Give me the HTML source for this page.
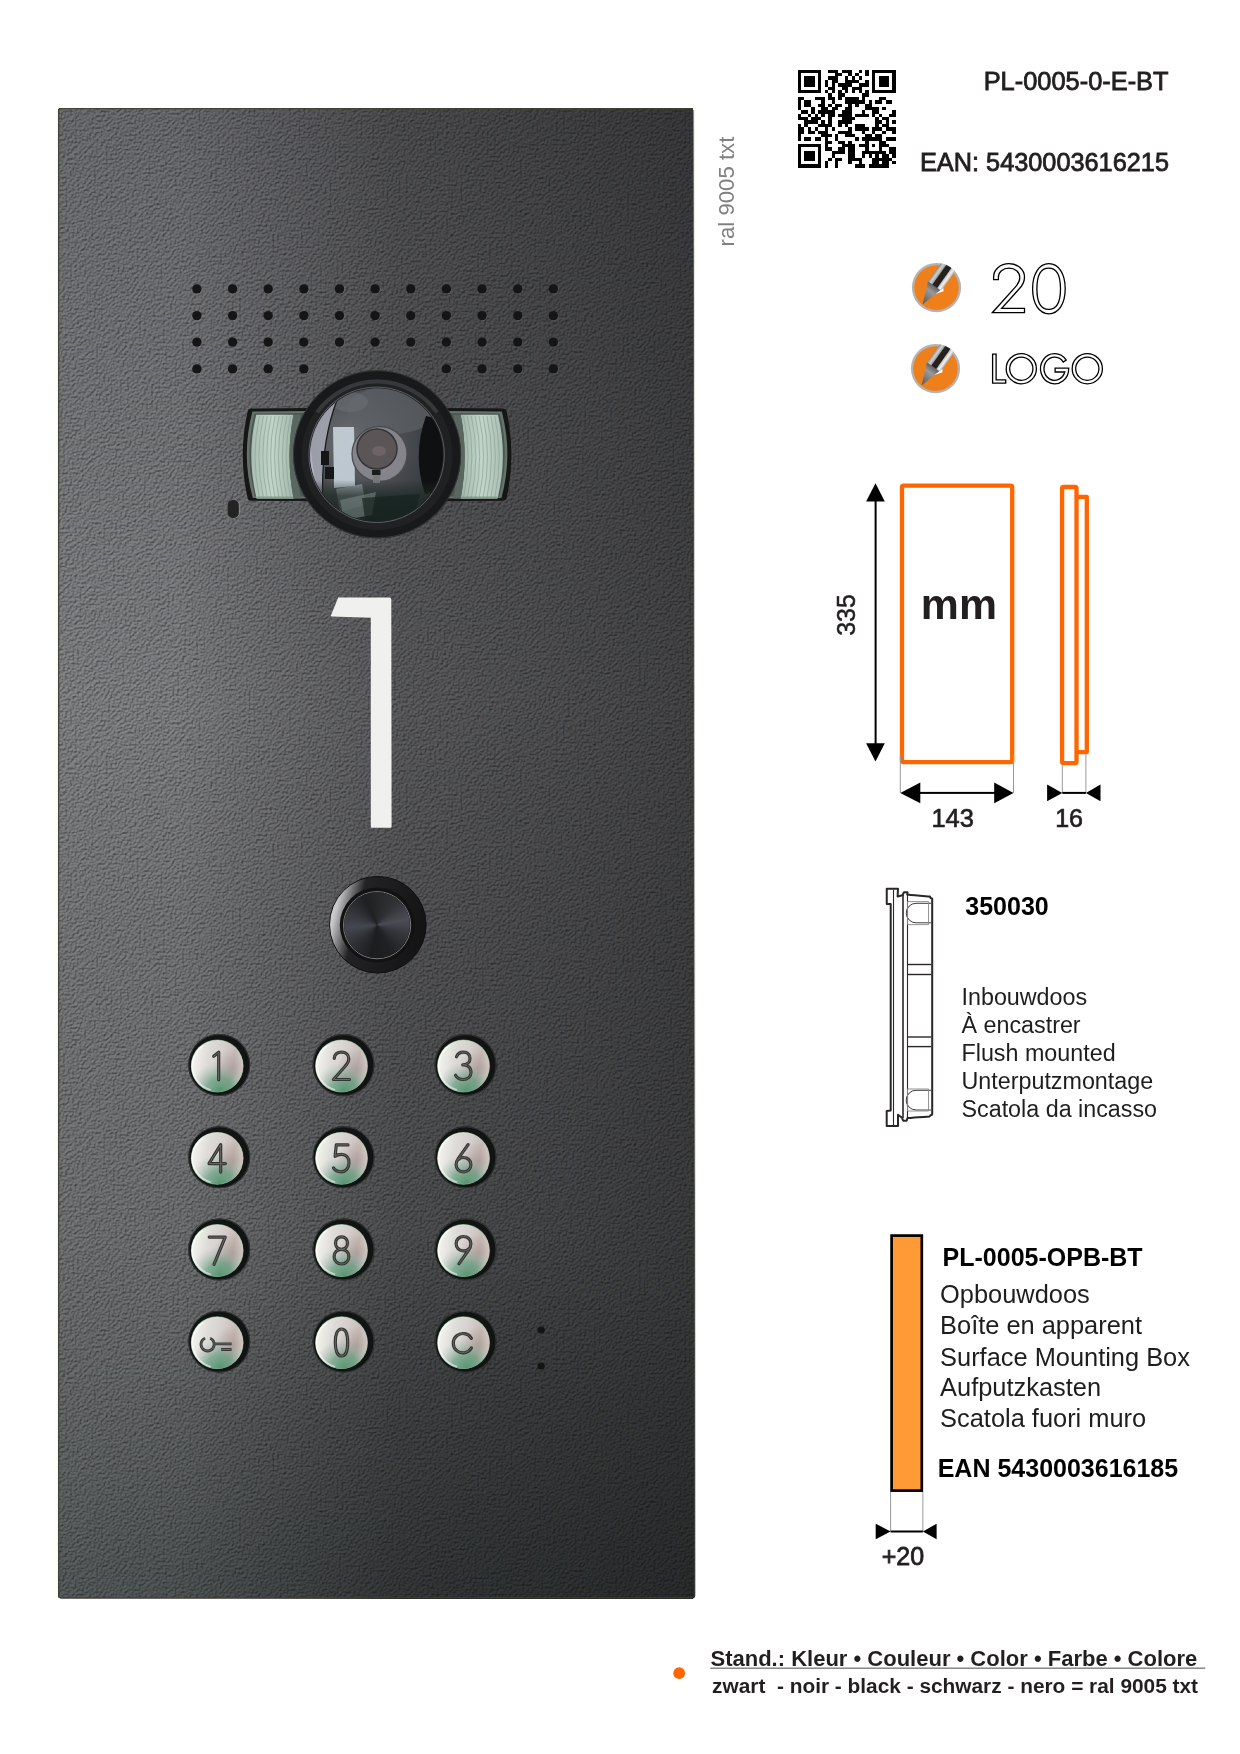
<!DOCTYPE html>
<html><head><meta charset="utf-8"><title>PL-0005-0-E-BT</title>
<style>
html,body{margin:0;padding:0;background:#fff;}
body{width:1240px;height:1754px;overflow:hidden;position:relative;font-family:"Liberation Sans",sans-serif;}
svg{position:absolute;left:0;top:0;display:block;will-change:transform}
text{font-family:"Liberation Sans",sans-serif;}
</style></head><body>
<svg width="1240" height="1754" viewBox="0 0 1240 1754">
<defs>
 <clipPath id="penclip"><circle r="24.6"/></clipPath>
 <clipPath id="panelclip"><rect x="58" y="108" width="636.5" height="1490.5" rx="3"/></clipPath>
 <linearGradient id="nibg" x1="0" y1="0" x2="1" y2="0">
  <stop offset="0" stop-color="#555"/><stop offset="0.6" stop-color="#9a9a9a"/><stop offset="1" stop-color="#444"/>
 </linearGradient>
 <linearGradient id="pbody1" x1="0" y1="0" x2="0" y2="1">
  <stop offset="0" stop-color="#8a8a8a"/><stop offset="0.5" stop-color="#d0d0d0"/><stop offset="1" stop-color="#999"/>
 </linearGradient>
 <linearGradient id="pbody2" x1="0" y1="0" x2="0" y2="1">
  <stop offset="0" stop-color="#bbb"/><stop offset="0.5" stop-color="#f2f2f2"/><stop offset="1" stop-color="#aaa"/>
 </linearGradient>
 <linearGradient id="pv" gradientUnits="userSpaceOnUse" x1="0" y1="108" x2="0" y2="1598">
  <stop offset="0" stop-color="#616265"/>
  <stop offset="0.05" stop-color="#646568"/>
  <stop offset="0.40" stop-color="#747577"/>
  <stop offset="0.55" stop-color="#6b6c6e"/>
  <stop offset="0.75" stop-color="#656768"/>
  <stop offset="0.92" stop-color="#56595a"/>
  <stop offset="1" stop-color="#4d5253"/>
 </linearGradient>
 <radialGradient id="pbot" gradientUnits="userSpaceOnUse" cx="450" cy="1640" r="420">
  <stop offset="0" stop-color="#000" stop-opacity="0.16"/>
  <stop offset="0.6" stop-color="#000" stop-opacity="0.08"/>
  <stop offset="1" stop-color="#000" stop-opacity="0"/>
 </radialGradient>
 <linearGradient id="ph" gradientUnits="userSpaceOnUse" x1="58" y1="0" x2="695" y2="0">
  <stop offset="0" stop-color="#000" stop-opacity="0"/>
  <stop offset="0.19" stop-color="#000" stop-opacity="0.02"/>
  <stop offset="0.53" stop-color="#000" stop-opacity="0.30"/>
  <stop offset="0.80" stop-color="#000" stop-opacity="0.40"/>
  <stop offset="1" stop-color="#000" stop-opacity="0.48"/>
 </linearGradient>
 <filter id="tex" x="0" y="0" width="100%" height="100%" color-interpolation-filters="sRGB">
  <feTurbulence type="fractalNoise" baseFrequency="0.42" numOctaves="3" seed="5" result="n"/>
  <feDiffuseLighting in="n" surfaceScale="2.2" diffuseConstant="1" lighting-color="#ffffff" result="l"><feDistantLight azimuth="235" elevation="50"/></feDiffuseLighting>
  <feColorMatrix in="l" type="matrix" values="0.3 0 0 0 0.29  0.3 0 0 0 0.29  0.3 0 0 0 0.29  0 0 0 0 1" result="g"/>
  <feComposite in="SourceGraphic" in2="g" operator="arithmetic" k1="2" k2="0" k3="0" k4="0"/>
 </filter>
 <radialGradient id="hole" cx="0.42" cy="0.42" r="0.6">
  <stop offset="0" stop-color="#141414"/><stop offset="0.75" stop-color="#1a1a1a"/><stop offset="1" stop-color="#2a2a2a"/>
 </radialGradient>

 <radialGradient id="glass" cx="0.3" cy="0.4" r="0.8">
  <stop offset="0" stop-color="#6c6f74"/><stop offset="0.45" stop-color="#4c4f53"/><stop offset="1" stop-color="#2e3235"/>
 </radialGradient>
 <linearGradient id="glassLow" x1="0" y1="0" x2="0" y2="1">
  <stop offset="0" stop-color="#2a3a34" stop-opacity="0"/><stop offset="0.55" stop-color="#2a3a34" stop-opacity="0"/><stop offset="0.75" stop-color="#22302b" stop-opacity="0.75"/><stop offset="1" stop-color="#1e2a26" stop-opacity="0.85"/>
 </linearGradient>
 <linearGradient id="ledg" x1="0" y1="0" x2="1" y2="0">
  <stop offset="0" stop-color="#a9bfb2"/><stop offset="0.5" stop-color="#c3d6ca"/><stop offset="1" stop-color="#a2b8aa"/>
 </linearGradient>
 <linearGradient id="metal" x1="0" y1="0.1" x2="1" y2="0.3">
  <stop offset="0" stop-color="#fafaf4"/><stop offset="0.12" stop-color="#f0f0ea"/><stop offset="0.35" stop-color="#dedcd8"/><stop offset="0.6" stop-color="#d6d0cd"/><stop offset="0.85" stop-color="#c8bcb8"/><stop offset="1" stop-color="#dcd8d2"/>
 </linearGradient>
 <radialGradient id="metalGreen" cx="0.55" cy="1.0" r="0.58" fx="0.55" fy="0.97">
  <stop offset="0" stop-color="#3c8a5e" stop-opacity="0.8"/><stop offset="0.45" stop-color="#4c9270" stop-opacity="0.6"/><stop offset="0.75" stop-color="#6fa08a" stop-opacity="0.25"/><stop offset="1" stop-color="#8fb0a0" stop-opacity="0"/>
 </radialGradient>
 <radialGradient id="metalShade" cx="0.8" cy="0.55" r="0.38">
  <stop offset="0" stop-color="#a08a86" stop-opacity="0.55"/><stop offset="1" stop-color="#a08a86" stop-opacity="0"/>
 </radialGradient>
 <radialGradient id="metalRim" cx="0.5" cy="0.5" r="0.5">
  <stop offset="0.86" stop-color="#ffffff" stop-opacity="0"/><stop offset="0.97" stop-color="#ffffff" stop-opacity="0.55"/><stop offset="1" stop-color="#e8f0c8" stop-opacity="0.3"/>
 </radialGradient>
 <linearGradient id="bezel" x1="0" y1="0.2" x2="1" y2="0.45">
  <stop offset="0" stop-color="#e4e4e4"/><stop offset="0.1" stop-color="#c4c4c6"/><stop offset="0.22" stop-color="#6a6a6c"/><stop offset="0.32" stop-color="#222224"/><stop offset="1" stop-color="#141415"/>
 </linearGradient>
<linearGradient id="glassLow2" gradientUnits="userSpaceOnUse" x1="0" y1="480" x2="0" y2="525">
  <stop offset="0" stop-color="#1e2a26" stop-opacity="0"/><stop offset="0.35" stop-color="#1e2a26" stop-opacity="0.7"/><stop offset="1" stop-color="#18221f" stop-opacity="0.9"/>
 </linearGradient>
</defs>
<g id="panel">
<g filter="url(#tex)"><path d="M61,108 L690.4,108 Q693.2,108 693.2,111 L694.8,1595.5 Q694.8,1598.5 691.8,1598.5 L61,1598.2 Q58,1598.2 58,1595.2 L58,111 Q58,108 61,108 Z" fill="url(#pv)"/>
<path d="M61,108 L690.4,108 Q693.2,108 693.2,111 L694.8,1595.5 Q694.8,1598.5 691.8,1598.5 L61,1598.2 Q58,1598.2 58,1595.2 L58,111 Q58,108 61,108 Z" fill="url(#ph)"/>
<path d="M61,108 L690.4,108 Q693.2,108 693.2,111 L694.8,1595.5 Q694.8,1598.5 691.8,1598.5 L61,1598.2 Q58,1598.2 58,1595.2 L58,111 Q58,108 61,108 Z" fill="url(#pbot)"/></g>
<path d="M693,108.6 L61,108.6 Q58.6,108.6 58.6,111 L58.6,1595.5 Q58.6,1597.9 61,1597.9 L692,1597.9" fill="none" stroke="#404230" stroke-width="1.3" opacity="0.9"/>
<path d="M693.6,110 L695.3,1596" stroke="#8d8d7c" stroke-width="1.2" opacity="0.6"/>
<!-- speaker holes -->
<g fill="#bcbcbc" opacity="0.18" transform="translate(0.7,0.7)"><circle cx="196.9" cy="288.9" r="4.7"/><circle cx="232.6" cy="288.9" r="4.7"/><circle cx="268.2" cy="288.9" r="4.7"/><circle cx="303.9" cy="288.9" r="4.7"/><circle cx="339.5" cy="288.9" r="4.7"/><circle cx="375.1" cy="288.9" r="4.7"/><circle cx="410.8" cy="288.9" r="4.7"/><circle cx="446.4" cy="288.9" r="4.7"/><circle cx="482.1" cy="288.9" r="4.7"/><circle cx="517.8" cy="288.9" r="4.7"/><circle cx="553.4" cy="288.9" r="4.7"/><circle cx="196.9" cy="315.6" r="4.7"/><circle cx="232.6" cy="315.6" r="4.7"/><circle cx="268.2" cy="315.6" r="4.7"/><circle cx="303.9" cy="315.6" r="4.7"/><circle cx="339.5" cy="315.6" r="4.7"/><circle cx="375.1" cy="315.6" r="4.7"/><circle cx="410.8" cy="315.6" r="4.7"/><circle cx="446.4" cy="315.6" r="4.7"/><circle cx="482.1" cy="315.6" r="4.7"/><circle cx="517.8" cy="315.6" r="4.7"/><circle cx="553.4" cy="315.6" r="4.7"/><circle cx="196.9" cy="342.1" r="4.7"/><circle cx="232.6" cy="342.1" r="4.7"/><circle cx="268.2" cy="342.1" r="4.7"/><circle cx="303.9" cy="342.1" r="4.7"/><circle cx="339.5" cy="342.1" r="4.7"/><circle cx="375.1" cy="342.1" r="4.7"/><circle cx="410.8" cy="342.1" r="4.7"/><circle cx="446.4" cy="342.1" r="4.7"/><circle cx="482.1" cy="342.1" r="4.7"/><circle cx="517.8" cy="342.1" r="4.7"/><circle cx="553.4" cy="342.1" r="4.7"/><circle cx="196.9" cy="368.9" r="4.7"/><circle cx="232.6" cy="368.9" r="4.7"/><circle cx="268.2" cy="368.9" r="4.7"/><circle cx="303.9" cy="368.9" r="4.7"/><circle cx="446.4" cy="368.9" r="4.7"/><circle cx="482.1" cy="368.9" r="4.7"/><circle cx="517.8" cy="368.9" r="4.7"/><circle cx="553.4" cy="368.9" r="4.7"/></g>
<g fill="#151515"><circle cx="196.9" cy="288.9" r="4.7"/><circle cx="232.6" cy="288.9" r="4.7"/><circle cx="268.2" cy="288.9" r="4.7"/><circle cx="303.9" cy="288.9" r="4.7"/><circle cx="339.5" cy="288.9" r="4.7"/><circle cx="375.1" cy="288.9" r="4.7"/><circle cx="410.8" cy="288.9" r="4.7"/><circle cx="446.4" cy="288.9" r="4.7"/><circle cx="482.1" cy="288.9" r="4.7"/><circle cx="517.8" cy="288.9" r="4.7"/><circle cx="553.4" cy="288.9" r="4.7"/><circle cx="196.9" cy="315.6" r="4.7"/><circle cx="232.6" cy="315.6" r="4.7"/><circle cx="268.2" cy="315.6" r="4.7"/><circle cx="303.9" cy="315.6" r="4.7"/><circle cx="339.5" cy="315.6" r="4.7"/><circle cx="375.1" cy="315.6" r="4.7"/><circle cx="410.8" cy="315.6" r="4.7"/><circle cx="446.4" cy="315.6" r="4.7"/><circle cx="482.1" cy="315.6" r="4.7"/><circle cx="517.8" cy="315.6" r="4.7"/><circle cx="553.4" cy="315.6" r="4.7"/><circle cx="196.9" cy="342.1" r="4.7"/><circle cx="232.6" cy="342.1" r="4.7"/><circle cx="268.2" cy="342.1" r="4.7"/><circle cx="303.9" cy="342.1" r="4.7"/><circle cx="339.5" cy="342.1" r="4.7"/><circle cx="375.1" cy="342.1" r="4.7"/><circle cx="410.8" cy="342.1" r="4.7"/><circle cx="446.4" cy="342.1" r="4.7"/><circle cx="482.1" cy="342.1" r="4.7"/><circle cx="517.8" cy="342.1" r="4.7"/><circle cx="553.4" cy="342.1" r="4.7"/><circle cx="196.9" cy="368.9" r="4.7"/><circle cx="232.6" cy="368.9" r="4.7"/><circle cx="268.2" cy="368.9" r="4.7"/><circle cx="303.9" cy="368.9" r="4.7"/><circle cx="446.4" cy="368.9" r="4.7"/><circle cx="482.1" cy="368.9" r="4.7"/><circle cx="517.8" cy="368.9" r="4.7"/><circle cx="553.4" cy="368.9" r="4.7"/></g>
<!-- mic -->
<rect x="228" y="500" width="11" height="18" rx="5.2" fill="none" stroke="#9a9a9a" stroke-width="1" opacity="0.6" transform="translate(0.6,0)"/><rect x="227.7" y="499.8" width="11" height="18.2" rx="5.3" fill="#232323"/>
<!-- numeral 1 -->
<path d="M338.2,597.5 L389.5,597.5 Q391.2,597.5 391.3,599.2 L391.6,826.6 Q391.6,827.8 390.3,827.8 L372,827.8 Q370.8,827.8 370.8,826.6 L370.8,617.8 L331.6,616.4 Q330.2,616.3 331,615.2 Z" fill="#f0f0ef"/>
<!-- small holes right of keypad -->
<circle cx="541.2" cy="1330" r="3.6" fill="#141414"/>
<circle cx="541.2" cy="1366" r="3.6" fill="#141414"/>
</g>
<g id="camera">
<g>
 <path d="M251,408.6 L312,408 L312,501 L251.5,500.8 Q248,500.8 247.5,497.5 Q238,455 247.5,412 Q248,408.6 251,408.6 Z" fill="#151717"/>
 <path d="M252.4,411.4 L310,411 L310,498.4 L252.8,498 Q241,455 252.4,411.4 Z" fill="#66736d"/>
 <path d="M254.6,413.4 L310,413 L310,496.6 L255,496.4 Q244,455 254.6,413.4 Z" fill="#4a5651"/>
 <path d="M256.2,414.8 L293.5,414.8 Q285.5,456 293.5,498.4 L256.6,498.4 Q246.2,456 256.2,414.8 Z" fill="url(#ledg)"/>
 <g fill="none" stroke="#8ba494" stroke-width="0.8" opacity="0.9"><path d="M259.5,416 Q250.5,456 259.5,498"/><path d="M263.4,416 Q254.4,456 263.4,498"/><path d="M267.3,416 Q258.3,456 267.3,498"/><path d="M271.2,416 Q262.2,456 271.2,498"/><path d="M275.1,416 Q266.1,456 275.1,498"/><path d="M279.0,416 Q270.0,456 279.0,498"/><path d="M282.9,416 Q273.9,456 282.9,498"/><path d="M286.8,416 Q277.8,456 286.8,498"/><path d="M290.7,416 Q281.7,456 290.7,498"/></g>
 <path d="M256.6,496.6 L293.5,496.6 L293.5,499 L256.9,499 Z" fill="#7f9588" opacity="0.8"/>
 <path d="M293.5,414.8 Q285.5,456 293.5,498.4 L301,498.4 Q292.5,456 301,414.8 Z" fill="#5a6761"/>
</g>
<g transform="translate(754.2,0) scale(-1,1)">
 <path d="M251,408.6 L312,408 L312,501 L251.5,500.8 Q248,500.8 247.5,497.5 Q238,455 247.5,412 Q248,408.6 251,408.6 Z" fill="#151717"/>
 <path d="M252.4,411.4 L310,411 L310,498.4 L252.8,498 Q241,455 252.4,411.4 Z" fill="#66736d"/>
 <path d="M254.6,413.4 L310,413 L310,496.6 L255,496.4 Q244,455 254.6,413.4 Z" fill="#4a5651"/>
 <path d="M256.2,414.8 L293.5,414.8 Q285.5,456 293.5,498.4 L256.6,498.4 Q246.2,456 256.2,414.8 Z" fill="url(#ledg)"/>
 <g fill="none" stroke="#8ba494" stroke-width="0.8" opacity="0.9"><path d="M259.5,416 Q250.5,456 259.5,498"/><path d="M263.4,416 Q254.4,456 263.4,498"/><path d="M267.3,416 Q258.3,456 267.3,498"/><path d="M271.2,416 Q262.2,456 271.2,498"/><path d="M275.1,416 Q266.1,456 275.1,498"/><path d="M279.0,416 Q270.0,456 279.0,498"/><path d="M282.9,416 Q273.9,456 282.9,498"/><path d="M286.8,416 Q277.8,456 286.8,498"/><path d="M290.7,416 Q281.7,456 290.7,498"/></g>
 <path d="M256.6,496.6 L293.5,496.6 L293.5,499 L256.9,499 Z" fill="#7f9588" opacity="0.8"/>
 <path d="M293.5,414.8 Q285.5,456 293.5,498.4 L301,498.4 Q292.5,456 301,414.8 Z" fill="#5a6761"/>
</g>
<circle cx="377.1" cy="454.3" r="84" fill="#18191a"/>
<circle cx="377.1" cy="454.3" r="83.6" fill="none" stroke="#3a3c3d" stroke-width="0.8"/>
<circle cx="377.1" cy="454.8" r="75.5" fill="#1f2122"/>
<path d="M317.1,412.3 A74,74 0 0 1 437.1,412.3" fill="none" stroke="#3c3f42" stroke-width="4" opacity="0.8"/>
<circle cx="376.6" cy="454.8" r="67.7" fill="none" stroke="#5c6064" stroke-width="1"/>
<clipPath id="glassclip"><circle cx="376.6" cy="454.8" r="66.5"/></clipPath>
<g clip-path="url(#glassclip)">
<circle cx="376.6" cy="454.8" r="66.5" fill="url(#glass)"/>
<!-- top mottled -->
<ellipse cx="392" cy="410" rx="45" ry="24" fill="#5e6266" opacity="0.7"/>
<ellipse cx="350" cy="402" rx="18" ry="10" fill="#6a6e72" opacity="0.6"/>
<!-- left bright crescent -->
<path d="M300,385 L337,400 Q318,450 324,520 L300,520 Z" fill="#a2a4b0" opacity="0.92"/>
<path d="M304,440 Q306,475 318,505 L322,505 Q312,475 310,440 Z" fill="#d0d2dc" opacity="0.5"/>
<path d="M337,400 Q318,450 324,520" fill="none" stroke="#1a1a1c" stroke-width="1.3"/>
<!-- window reflection -->
<path d="M333,427 L354,427 L355,486 L334,488 Z" fill="#c6d0d8" opacity="0.92"/>
<path d="M336,489 L362,484 L366,505 L340,512 Z" fill="#aeb8bc" opacity="0.7"/>
<rect x="321" y="451" width="8" height="14" fill="#151515"/>
<rect x="325" y="467" width="9" height="12" fill="#171717"/>
<!-- dark crescent right -->
<path d="M426,416 Q412,455 425,494 Q441,492 447,480 Q453,455 445,425 Q437,418 426,416 Z" fill="#0f1011"/>
<path d="M443,448 L446,448 L446,486 L443,488 Z" fill="#8c9094" opacity="0.7"/>
<!-- aperture -->
<circle cx="379.5" cy="454" r="27.5" fill="#84848a"/>
<circle cx="379.5" cy="454" r="27.5" fill="none" stroke="#4c4e52" stroke-width="1.3"/>
<circle cx="377" cy="449" r="20" fill="#5c5558"/>
<circle cx="377" cy="449" r="20" fill="none" stroke="#333437" stroke-width="1.5"/>
<ellipse cx="379" cy="451" rx="7" ry="5" fill="#7a6c70" opacity="0.6"/>
<rect x="372" y="470" width="8.5" height="5" fill="#1c1c1c"/>
<rect x="373" y="475" width="7" height="8" fill="#767a7e"/>
<!-- lower dark-green -->
<rect x="300" y="480" width="160" height="60" fill="url(#glassLow2)"/>
<path d="M340,500 L376,492 L372,515 L344,520 Z" fill="#7c8a86" opacity="0.55"/>
<path d="M362,498 L420,494 L412,522 L366,526 Z" fill="#16221e" opacity="0.7"/>
</g>
</g>
<g id="keys"><circle cx="219.2" cy="1065.0" r="31" fill="#121413"/><circle cx="219.2" cy="1065.0" r="30.5" fill="none" stroke="#3a3e3c" stroke-width="0.8"/><circle cx="217.2" cy="1066.0" r="26.4" fill="#5d8f6e"/><circle cx="217.2" cy="1066.0" r="26" fill="url(#metal)"/><circle cx="217.2" cy="1066.0" r="26" fill="url(#metalShade)"/><circle cx="217.2" cy="1066.0" r="26" fill="url(#metalGreen)"/><path d="M210.78,1089.95 A24.8,24.8 0 0 1 202.98,1045.69" fill="none" stroke="#ffffff" stroke-width="1.6" opacity="0.55"/><g transform="translate(208.2,1051.8)" fill="none" stroke-linecap="round" stroke-linejoin="round"><path d="M5.5,4.5 L10.5,0.5 L10.5,28" stroke="#353533" stroke-width="3.2"/><path d="M5.5,4.5 L10.5,0.5 L10.5,28" stroke="#6e6e6a" stroke-width="0.9"/></g><circle cx="343.5" cy="1065.0" r="31" fill="#121413"/><circle cx="343.5" cy="1065.0" r="30.5" fill="none" stroke="#3a3e3c" stroke-width="0.8"/><circle cx="341.5" cy="1066.0" r="26.4" fill="#5d8f6e"/><circle cx="341.5" cy="1066.0" r="26" fill="url(#metal)"/><circle cx="341.5" cy="1066.0" r="26" fill="url(#metalShade)"/><circle cx="341.5" cy="1066.0" r="26" fill="url(#metalGreen)"/><path d="M335.08,1089.95 A24.8,24.8 0 0 1 327.28,1045.69" fill="none" stroke="#ffffff" stroke-width="1.6" opacity="0.55"/><g transform="translate(332.5,1051.8)" fill="none" stroke-linecap="round" stroke-linejoin="round"><path d="M1.8,6.5 C1.8,2.8 4.8,0.3 9,0.3 C13.3,0.3 16.3,3 16.3,7 C16.3,10 14.8,12.2 12,15.2 L1,27.7 L17,27.7" stroke="#353533" stroke-width="3.2"/><path d="M1.8,6.5 C1.8,2.8 4.8,0.3 9,0.3 C13.3,0.3 16.3,3 16.3,7 C16.3,10 14.8,12.2 12,15.2 L1,27.7 L17,27.7" stroke="#6e6e6a" stroke-width="0.9"/></g><circle cx="465.5" cy="1065.0" r="31" fill="#121413"/><circle cx="465.5" cy="1065.0" r="30.5" fill="none" stroke="#3a3e3c" stroke-width="0.8"/><circle cx="463.5" cy="1066.0" r="26.4" fill="#5d8f6e"/><circle cx="463.5" cy="1066.0" r="26" fill="url(#metal)"/><circle cx="463.5" cy="1066.0" r="26" fill="url(#metalShade)"/><circle cx="463.5" cy="1066.0" r="26" fill="url(#metalGreen)"/><path d="M457.08,1089.95 A24.8,24.8 0 0 1 449.28,1045.69" fill="none" stroke="#ffffff" stroke-width="1.6" opacity="0.55"/><g transform="translate(454.5,1051.8)" fill="none" stroke-linecap="round" stroke-linejoin="round"><path d="M2,5 C3,2 5.5,0.3 9,0.3 C13,0.3 15.5,2.8 15.5,6.6 C15.5,10.5 12.6,13 8.2,13 C13,13 16.5,15.6 16.5,20.4 C16.5,25 13,27.7 8.6,27.7 C5,27.7 2.5,26.2 1,23.5" stroke="#353533" stroke-width="3.2"/><path d="M2,5 C3,2 5.5,0.3 9,0.3 C13,0.3 15.5,2.8 15.5,6.6 C15.5,10.5 12.6,13 8.2,13 C13,13 16.5,15.6 16.5,20.4 C16.5,25 13,27.7 8.6,27.7 C5,27.7 2.5,26.2 1,23.5" stroke="#6e6e6a" stroke-width="0.9"/></g><circle cx="219.2" cy="1157.3" r="31" fill="#121413"/><circle cx="219.2" cy="1157.3" r="30.5" fill="none" stroke="#3a3e3c" stroke-width="0.8"/><circle cx="217.2" cy="1158.3" r="26.4" fill="#5d8f6e"/><circle cx="217.2" cy="1158.3" r="26" fill="url(#metal)"/><circle cx="217.2" cy="1158.3" r="26" fill="url(#metalShade)"/><circle cx="217.2" cy="1158.3" r="26" fill="url(#metalGreen)"/><path d="M210.78,1182.25 A24.8,24.8 0 0 1 202.98,1137.99" fill="none" stroke="#ffffff" stroke-width="1.6" opacity="0.55"/><g transform="translate(208.2,1144.1)" fill="none" stroke-linecap="round" stroke-linejoin="round"><path d="M12.5,28 L12.5,0.5 L0.8,19.5 L17.2,19.5" stroke="#353533" stroke-width="3.2"/><path d="M12.5,28 L12.5,0.5 L0.8,19.5 L17.2,19.5" stroke="#6e6e6a" stroke-width="0.9"/></g><circle cx="343.5" cy="1157.3" r="31" fill="#121413"/><circle cx="343.5" cy="1157.3" r="30.5" fill="none" stroke="#3a3e3c" stroke-width="0.8"/><circle cx="341.5" cy="1158.3" r="26.4" fill="#5d8f6e"/><circle cx="341.5" cy="1158.3" r="26" fill="url(#metal)"/><circle cx="341.5" cy="1158.3" r="26" fill="url(#metalShade)"/><circle cx="341.5" cy="1158.3" r="26" fill="url(#metalGreen)"/><path d="M335.08,1182.25 A24.8,24.8 0 0 1 327.28,1137.99" fill="none" stroke="#ffffff" stroke-width="1.6" opacity="0.55"/><g transform="translate(332.5,1144.1)" fill="none" stroke-linecap="round" stroke-linejoin="round"><path d="M15.5,0.8 L3.8,0.8 L2.6,12.2 C4.4,10.8 6.6,10.2 9,10.2 C13.5,10.2 16.5,13.6 16.5,18.6 C16.5,24.2 13,27.7 8.6,27.7 C5,27.7 2.5,26.2 1,23.8" stroke="#353533" stroke-width="3.2"/><path d="M15.5,0.8 L3.8,0.8 L2.6,12.2 C4.4,10.8 6.6,10.2 9,10.2 C13.5,10.2 16.5,13.6 16.5,18.6 C16.5,24.2 13,27.7 8.6,27.7 C5,27.7 2.5,26.2 1,23.8" stroke="#6e6e6a" stroke-width="0.9"/></g><circle cx="465.5" cy="1157.3" r="31" fill="#121413"/><circle cx="465.5" cy="1157.3" r="30.5" fill="none" stroke="#3a3e3c" stroke-width="0.8"/><circle cx="463.5" cy="1158.3" r="26.4" fill="#5d8f6e"/><circle cx="463.5" cy="1158.3" r="26" fill="url(#metal)"/><circle cx="463.5" cy="1158.3" r="26" fill="url(#metalShade)"/><circle cx="463.5" cy="1158.3" r="26" fill="url(#metalGreen)"/><path d="M457.08,1182.25 A24.8,24.8 0 0 1 449.28,1137.99" fill="none" stroke="#ffffff" stroke-width="1.6" opacity="0.55"/><g transform="translate(454.5,1144.1)" fill="none" stroke-linecap="round" stroke-linejoin="round"><path d="M13.6,0.5 L4.2,13.8 C2.6,16 1.6,18.2 1.6,20.6 C1.6,24.8 4.8,27.8 9,27.8 C13.2,27.8 16.4,24.8 16.4,20.6 C16.4,16.4 13.2,13.4 9,13.4 C6.6,13.4 4.6,14.4 3.4,15.8" stroke="#353533" stroke-width="3.2"/><path d="M13.6,0.5 L4.2,13.8 C2.6,16 1.6,18.2 1.6,20.6 C1.6,24.8 4.8,27.8 9,27.8 C13.2,27.8 16.4,24.8 16.4,20.6 C16.4,16.4 13.2,13.4 9,13.4 C6.6,13.4 4.6,14.4 3.4,15.8" stroke="#6e6e6a" stroke-width="0.9"/></g><circle cx="219.2" cy="1249.5" r="31" fill="#121413"/><circle cx="219.2" cy="1249.5" r="30.5" fill="none" stroke="#3a3e3c" stroke-width="0.8"/><circle cx="217.2" cy="1250.5" r="26.4" fill="#5d8f6e"/><circle cx="217.2" cy="1250.5" r="26" fill="url(#metal)"/><circle cx="217.2" cy="1250.5" r="26" fill="url(#metalShade)"/><circle cx="217.2" cy="1250.5" r="26" fill="url(#metalGreen)"/><path d="M210.78,1274.45 A24.8,24.8 0 0 1 202.98,1230.19" fill="none" stroke="#ffffff" stroke-width="1.6" opacity="0.55"/><g transform="translate(208.2,1236.3)" fill="none" stroke-linecap="round" stroke-linejoin="round"><path d="M1,0.8 L17,0.8 L5.8,28" stroke="#353533" stroke-width="3.2"/><path d="M1,0.8 L17,0.8 L5.8,28" stroke="#6e6e6a" stroke-width="0.9"/></g><circle cx="343.5" cy="1249.5" r="31" fill="#121413"/><circle cx="343.5" cy="1249.5" r="30.5" fill="none" stroke="#3a3e3c" stroke-width="0.8"/><circle cx="341.5" cy="1250.5" r="26.4" fill="#5d8f6e"/><circle cx="341.5" cy="1250.5" r="26" fill="url(#metal)"/><circle cx="341.5" cy="1250.5" r="26" fill="url(#metalShade)"/><circle cx="341.5" cy="1250.5" r="26" fill="url(#metalGreen)"/><path d="M335.08,1274.45 A24.8,24.8 0 0 1 327.28,1230.19" fill="none" stroke="#ffffff" stroke-width="1.6" opacity="0.55"/><g transform="translate(332.5,1236.3)" fill="none" stroke-linecap="round" stroke-linejoin="round"><path d="M9,13 C5.4,13 3,10.4 3,6.8 C3,3.2 5.4,0.5 9,0.5 C12.6,0.5 15,3.2 15,6.8 C15,10.4 12.6,13 9,13 C4.6,13 1.6,16.3 1.6,20.3 C1.6,24.6 4.8,27.7 9,27.7 C13.2,27.7 16.4,24.6 16.4,20.3 C16.4,16.3 13.4,13 9,13 Z" stroke="#353533" stroke-width="3.2"/><path d="M9,13 C5.4,13 3,10.4 3,6.8 C3,3.2 5.4,0.5 9,0.5 C12.6,0.5 15,3.2 15,6.8 C15,10.4 12.6,13 9,13 C4.6,13 1.6,16.3 1.6,20.3 C1.6,24.6 4.8,27.7 9,27.7 C13.2,27.7 16.4,24.6 16.4,20.3 C16.4,16.3 13.4,13 9,13 Z" stroke="#6e6e6a" stroke-width="0.9"/></g><circle cx="465.5" cy="1249.5" r="31" fill="#121413"/><circle cx="465.5" cy="1249.5" r="30.5" fill="none" stroke="#3a3e3c" stroke-width="0.8"/><circle cx="463.5" cy="1250.5" r="26.4" fill="#5d8f6e"/><circle cx="463.5" cy="1250.5" r="26" fill="url(#metal)"/><circle cx="463.5" cy="1250.5" r="26" fill="url(#metalShade)"/><circle cx="463.5" cy="1250.5" r="26" fill="url(#metalGreen)"/><path d="M457.08,1274.45 A24.8,24.8 0 0 1 449.28,1230.19" fill="none" stroke="#ffffff" stroke-width="1.6" opacity="0.55"/><g transform="translate(454.5,1236.3)" fill="none" stroke-linecap="round" stroke-linejoin="round"><path d="M4.4,27.5 L13.8,14.2 C15.4,12 16.4,9.8 16.4,7.4 C16.4,3.2 13.2,0.2 9,0.2 C4.8,0.2 1.6,3.2 1.6,7.4 C1.6,11.6 4.8,14.6 9,14.6 C11.4,14.6 13.4,13.6 14.6,12.2" stroke="#353533" stroke-width="3.2"/><path d="M4.4,27.5 L13.8,14.2 C15.4,12 16.4,9.8 16.4,7.4 C16.4,3.2 13.2,0.2 9,0.2 C4.8,0.2 1.6,3.2 1.6,7.4 C1.6,11.6 4.8,14.6 9,14.6 C11.4,14.6 13.4,13.6 14.6,12.2" stroke="#6e6e6a" stroke-width="0.9"/></g><circle cx="219.2" cy="1341.7" r="31" fill="#121413"/><circle cx="219.2" cy="1341.7" r="30.5" fill="none" stroke="#3a3e3c" stroke-width="0.8"/><circle cx="217.2" cy="1342.7" r="26.4" fill="#5d8f6e"/><circle cx="217.2" cy="1342.7" r="26" fill="url(#metal)"/><circle cx="217.2" cy="1342.7" r="26" fill="url(#metalShade)"/><circle cx="217.2" cy="1342.7" r="26" fill="url(#metalGreen)"/><path d="M210.78,1366.65 A24.8,24.8 0 0 1 202.98,1322.39" fill="none" stroke="#ffffff" stroke-width="1.6" opacity="0.55"/><g stroke="#3a3a38" stroke-width="2.8"><g fill="none" stroke-linecap="butt"><path d="M210.07,1338.28 A6.6,6.6 0 1 1 205.13,1338.28"/><path d="M214.80,1343.9 L231.6,1343.9 M221.1,1349.5 L231.6,1349.5"/></g></g><g stroke="#6e6e6a" stroke-width="0.8"><g fill="none" stroke-linecap="butt"><path d="M210.07,1338.28 A6.6,6.6 0 1 1 205.13,1338.28"/><path d="M214.80,1343.9 L231.6,1343.9 M221.1,1349.5 L231.6,1349.5"/></g></g><circle cx="343.5" cy="1341.7" r="31" fill="#121413"/><circle cx="343.5" cy="1341.7" r="30.5" fill="none" stroke="#3a3e3c" stroke-width="0.8"/><circle cx="341.5" cy="1342.7" r="26.4" fill="#5d8f6e"/><circle cx="341.5" cy="1342.7" r="26" fill="url(#metal)"/><circle cx="341.5" cy="1342.7" r="26" fill="url(#metalShade)"/><circle cx="341.5" cy="1342.7" r="26" fill="url(#metalGreen)"/><path d="M335.08,1366.65 A24.8,24.8 0 0 1 327.28,1322.39" fill="none" stroke="#ffffff" stroke-width="1.6" opacity="0.55"/><g transform="translate(332.5,1328.5)" fill="none" stroke-linecap="round" stroke-linejoin="round"><path d="M9,0.5 C13.2,0.5 15.2,6 15.2,14 C15.2,22 13.2,27.5 9,27.5 C4.8,27.5 2.8,22 2.8,14 C2.8,6 4.8,0.5 9,0.5 Z" stroke="#353533" stroke-width="3.2"/><path d="M9,0.5 C13.2,0.5 15.2,6 15.2,14 C15.2,22 13.2,27.5 9,27.5 C4.8,27.5 2.8,22 2.8,14 C2.8,6 4.8,0.5 9,0.5 Z" stroke="#6e6e6a" stroke-width="0.9"/></g><circle cx="465.5" cy="1341.7" r="31" fill="#121413"/><circle cx="465.5" cy="1341.7" r="30.5" fill="none" stroke="#3a3e3c" stroke-width="0.8"/><circle cx="463.5" cy="1342.7" r="26.4" fill="#5d8f6e"/><circle cx="463.5" cy="1342.7" r="26" fill="url(#metal)"/><circle cx="463.5" cy="1342.7" r="26" fill="url(#metalShade)"/><circle cx="463.5" cy="1342.7" r="26" fill="url(#metalGreen)"/><path d="M457.08,1366.65 A24.8,24.8 0 0 1 449.28,1322.39" fill="none" stroke="#ffffff" stroke-width="1.6" opacity="0.55"/><g transform="translate(454.0,1329.2)" fill="none" stroke-linecap="round" stroke-linejoin="round"><path d="M17.4,9.2 A9.7,9.7 0 1 0 17.4,18.8" stroke="#353533" stroke-width="3.2"/><path d="M17.4,9.2 A9.7,9.7 0 1 0 17.4,18.8" stroke="#6e6e6a" stroke-width="0.9"/></g></g><g id="bell">
<circle cx="377.8" cy="924.7" r="48.3" fill="url(#bezel)"/>
<circle cx="377.8" cy="924.7" r="48.3" fill="none" stroke="#101010" stroke-width="1"/>
<circle cx="377.3" cy="925" r="37.5" fill="#121213"/>
<circle cx="377.1" cy="925.2" r="33.6" fill="none" stroke="#7c7c80" stroke-width="1"/>
</g><g id="right">
<!-- QR -->
<path transform="translate(797.7,69.7) scale(3.38)" d="M0,0h7v1h-7zM9,0h3v1h-3zM13,0h3v1h-3zM18,0h1v1h-1zM20,0h1v1h-1zM22,0h7v1h-7zM0,1h1v1h-1zM6,1h1v1h-1zM11,1h2v1h-2zM15,1h1v1h-1zM17,1h1v1h-1zM20,1h1v1h-1zM22,1h1v1h-1zM28,1h1v1h-1zM0,2h1v1h-1zM2,2h3v1h-3zM6,2h1v1h-1zM9,2h3v1h-3zM14,2h1v1h-1zM16,2h1v1h-1zM18,2h1v1h-1zM22,2h1v1h-1zM24,2h3v1h-3zM28,2h1v1h-1zM0,3h1v1h-1zM2,3h3v1h-3zM6,3h1v1h-1zM8,3h1v1h-1zM10,3h2v1h-2zM14,3h4v1h-4zM20,3h1v1h-1zM22,3h1v1h-1zM24,3h3v1h-3zM28,3h1v1h-1zM0,4h1v1h-1zM2,4h3v1h-3zM6,4h1v1h-1zM8,4h1v1h-1zM10,4h1v1h-1zM12,4h4v1h-4zM18,4h3v1h-3zM22,4h1v1h-1zM24,4h3v1h-3zM28,4h1v1h-1zM0,5h1v1h-1zM6,5h1v1h-1zM9,5h2v1h-2zM13,5h2v1h-2zM16,5h3v1h-3zM22,5h1v1h-1zM28,5h1v1h-1zM0,6h7v1h-7zM8,6h1v1h-1zM10,6h1v1h-1zM12,6h1v1h-1zM14,6h1v1h-1zM16,6h1v1h-1zM18,6h1v1h-1zM20,6h1v1h-1zM22,6h7v1h-7zM9,7h1v1h-1zM12,7h2v1h-2zM19,7h2v1h-2zM0,8h2v1h-2zM5,8h3v1h-3zM9,8h2v1h-2zM12,8h1v1h-1zM14,8h4v1h-4zM19,8h1v1h-1zM24,8h2v1h-2zM0,9h1v1h-1zM2,9h2v1h-2zM7,9h1v1h-1zM10,9h1v1h-1zM14,9h6v1h-6zM21,9h1v1h-1zM23,9h2v1h-2zM26,9h2v1h-2zM0,10h1v1h-1zM2,10h2v1h-2zM6,10h2v1h-2zM9,10h1v1h-1zM11,10h2v1h-2zM15,10h1v1h-1zM17,10h1v1h-1zM20,10h2v1h-2zM0,11h1v1h-1zM4,11h1v1h-1zM7,11h2v1h-2zM10,11h2v1h-2zM14,11h2v1h-2zM20,11h4v1h-4zM25,11h1v1h-1zM1,12h2v1h-2zM4,12h1v1h-1zM6,12h5v1h-5zM13,12h3v1h-3zM19,12h1v1h-1zM22,12h2v1h-2zM28,12h1v1h-1zM0,13h1v1h-1zM3,13h1v1h-1zM5,13h1v1h-1zM7,13h1v1h-1zM9,13h2v1h-2zM12,13h4v1h-4zM17,13h4v1h-4zM22,13h1v1h-1zM24,13h1v1h-1zM27,13h2v1h-2zM0,14h3v1h-3zM4,14h3v1h-3zM9,14h1v1h-1zM13,14h4v1h-4zM23,14h1v1h-1zM25,14h2v1h-2zM2,15h4v1h-4zM7,15h1v1h-1zM9,15h1v1h-1zM12,15h4v1h-4zM23,15h2v1h-2zM26,15h1v1h-1zM28,15h1v1h-1zM0,16h1v1h-1zM2,16h1v1h-1zM6,16h4v1h-4zM12,16h1v1h-1zM14,16h1v1h-1zM17,16h3v1h-3zM23,16h1v1h-1zM25,16h2v1h-2zM0,17h2v1h-2zM3,17h1v1h-1zM5,17h1v1h-1zM8,17h1v1h-1zM10,17h1v1h-1zM15,17h1v1h-1zM17,17h4v1h-4zM22,17h3v1h-3zM26,17h3v1h-3zM0,18h2v1h-2zM3,18h2v1h-2zM6,18h3v1h-3zM12,18h4v1h-4zM19,18h1v1h-1zM22,18h1v1h-1zM25,18h1v1h-1zM28,18h1v1h-1zM0,19h1v1h-1zM7,19h3v1h-3zM11,19h1v1h-1zM14,19h3v1h-3zM20,19h2v1h-2zM23,19h2v1h-2zM0,20h1v1h-1zM2,20h2v1h-2zM5,20h2v1h-2zM8,20h1v1h-1zM11,20h1v1h-1zM17,20h1v1h-1zM19,20h6v1h-6zM26,20h3v1h-3zM8,21h2v1h-2zM12,21h2v1h-2zM15,21h1v1h-1zM20,21h1v1h-1zM24,21h2v1h-2zM0,22h7v1h-7zM8,22h1v1h-1zM13,22h4v1h-4zM18,22h3v1h-3zM22,22h1v1h-1zM24,22h3v1h-3zM0,23h1v1h-1zM6,23h1v1h-1zM8,23h2v1h-2zM12,23h2v1h-2zM15,23h2v1h-2zM20,23h1v1h-1zM24,23h1v1h-1zM27,23h2v1h-2zM0,24h1v1h-1zM2,24h3v1h-3zM6,24h1v1h-1zM10,24h4v1h-4zM15,24h2v1h-2zM19,24h7v1h-7zM27,24h2v1h-2zM0,25h1v1h-1zM2,25h3v1h-3zM6,25h1v1h-1zM10,25h1v1h-1zM15,25h2v1h-2zM19,25h1v1h-1zM21,25h1v1h-1zM23,25h1v1h-1zM25,25h2v1h-2zM28,25h1v1h-1zM0,26h1v1h-1zM2,26h3v1h-3zM6,26h1v1h-1zM9,26h1v1h-1zM11,26h2v1h-2zM15,26h4v1h-4zM22,26h6v1h-6zM0,27h1v1h-1zM6,27h1v1h-1zM8,27h1v1h-1zM11,27h1v1h-1zM15,27h1v1h-1zM18,27h1v1h-1zM22,27h2v1h-2zM25,27h2v1h-2zM28,27h1v1h-1zM0,28h7v1h-7zM8,28h1v1h-1zM11,28h1v1h-1zM17,28h3v1h-3zM21,28h6v1h-6z" fill="#000" shape-rendering="crispEdges"/>
<!-- pen icons -->
<g id="pen1" transform="translate(936.5,287.6)">
 <circle r="24.6" fill="#b3b3b3"/>
 <circle r="22.3" fill="#ef7f1a"/>
 <g clip-path="url(#penclip)">
  <g transform="translate(-14,16.8) rotate(-54.5)">
   <path d="M0,0 L22,-9 L25.5,7.5 Z" fill="url(#nibg)"/>
   <rect x="22" y="-9" width="30" height="5.5" fill="url(#pbody1)"/>
   <rect x="22" y="-3.5" width="30" height="6" fill="#222"/>
   <rect x="22" y="2.5" width="30" height="5" fill="url(#pbody2)"/>
   <path d="M16,4.5 L25.5,7.5 L23,9.5 Z" fill="#fff"/>
  </g>
 </g>
</g>
<use href="#pen1" transform="translate(-1,81)"/>
<!-- outlined 20 -->
<g fill="none" stroke="#000" stroke-width="1.3" stroke-linejoin="miter">
 <path d="M993.6,279.7 L993.6,277 C993.6,269.3 1000.5,263.7 1009,263.7 C1017.6,263.7 1024.5,269.6 1024.5,277.2 C1024.5,281.5 1022.8,285.5 1018.4,289.8 L1001.7,308.3 L1024.5,308.3 L1024.5,312.7 L992.3,312.7 L1015.5,286.9 C1018.3,283.8 1019.8,281 1019.8,277.5 C1019.8,272 1015,268.1 1008.9,268.1 C1003,268.1 998.4,272 998.4,277 L998.4,279.7 Z"/>
 <path d="M1048.9,263.7 C1058.68,263.7 1065.2,273.72 1065.2,288.75 C1065.2,303.78 1058.68,313.8 1048.9,313.8 C1039.12,313.8 1032.6,303.78 1032.6,288.75 C1032.6,273.72 1039.12,263.7 1048.9,263.7 Z"/>
 <path d="M1048.7,268.1 C1056.72,268.1 1060.5,274.71 1060.5,288.75 C1060.5,302.79 1056.72,309.4 1048.7,309.4 C1040.68,309.4 1036.9,302.79 1036.9,288.75 C1036.9,274.71 1040.68,268.1 1048.7,268.1 Z"/>
 <!-- LOGO -->
 <path d="M992.6,354.1 L996.1,354.1 L996.1,379.8 L1005.7,379.8 L1005.7,383.1 L992.6,383.1 Z"/>
 <circle cx="1021.3" cy="368.7" r="15.1"/>
 <circle cx="1021.3" cy="368.7" r="11.6"/>
 <path d="M1066.2,360.1 A14.1,15.1 0 1 0 1068.7,368.2 L1055.1,368.2 L1055.1,372 L1064.76,372 A10.6,11.6 0 1 1 1063.3,362.1 Z"/>
 <circle cx="1087.3" cy="368.7" r="15.1"/>
 <circle cx="1087.3" cy="368.7" r="11.6"/>
</g>
<!-- dimension drawing -->
<g fill="none" stroke="#ff6600" stroke-width="4.3" stroke-linejoin="round">
 <rect x="902" y="485.6" width="110.2" height="276.6" rx="1.5"/>
 <rect x="1062.1" y="487" width="14.4" height="276.1" rx="1.5"/>
 <path d="M1076.5,496.8 L1086.8,496.8 L1086.8,752.2 L1076.5,752.2"/>
</g>
<g stroke="#999" stroke-width="1" fill="none">
 <line x1="900.3" y1="755" x2="900.3" y2="793"/>
 <line x1="1013.5" y1="755" x2="1013.5" y2="793"/>
 <line x1="1062.3" y1="765" x2="1062.3" y2="793"/>
 <line x1="1085.9" y1="754" x2="1085.9" y2="793"/>
</g>
<g fill="#000">
 <rect x="874.6" y="498" width="2" height="248"/>
 <path d="M875.5,483.2 L884.8,501.6 L866.1,501.6 Z"/>
 <path d="M875.5,761.6 L884.8,743.2 L866.1,743.2 Z"/>
 <rect x="915" y="791.9" width="84" height="2"/>
 <path d="M900.3,792.9 L920.3,782.6 L920.3,803.2 Z"/>
 <path d="M1013.5,792.9 L994.2,782.4 L994.2,803.2 Z"/>
 <rect x="1062.3" y="791.9" width="23.6" height="2"/>
 <path d="M1062.3,792.9 L1047.1,784.5 L1047.1,801.3 Z"/>
 <path d="M1085.9,792.9 L1100.5,784.5 L1100.5,801.3 Z"/>
</g>
<!-- flush box drawing 350030 -->
<g fill="none" stroke="#2b2626" stroke-linejoin="round">
 <path stroke-width="2" d="M890.7,960 L890.7,904 L886.75,904 L886.75,888.75 L898,888.75 L897.6,896.5 L902.5,895.2 L904,892.3 L907.5,892.3 L907.3,894.6 C915,895.6 922,896 930,896.6 L930.6,898 L932.2,898.6 L932.2,1114.6 L930.6,1115.2 L929.6,1116.5 C922,1117 915,1117.4 907.5,1118 L906.6,1120.7 L903.2,1120.7 L902,1117.8 L898,1114.7 L898,1126.1 L886.7,1126.1 L886.7,1111 L890.7,1110.6 Z"/>
 <g stroke-width="1.1">
  <line x1="893.5" y1="889.5" x2="893.5" y2="1125.5"/>
  <line x1="903" y1="895" x2="903" y2="1118" stroke-width="1.6"/>
  <line x1="907.5" y1="894" x2="907.5" y2="1118"/>
  <line x1="907.5" y1="964.5" x2="931" y2="964.5" stroke-width="1.4"/>
  <line x1="907.5" y1="974.5" x2="931" y2="974.5" stroke-width="1.4"/>
  <line x1="907.5" y1="1037" x2="931" y2="1037" stroke-width="1.4"/>
  <line x1="907.5" y1="1046.6" x2="931" y2="1046.6" stroke-width="1.4"/>
  <path d="M916,903.3 L931,903.3 M916,922.8 L931,922.8 M916,903.3 A9.75,9.75 0 0 0 916,922.8" stroke-width="0.9"/>
  <rect x="907.5" y="901.6" width="21" height="23" stroke="#888" stroke-width="0.9"/>
  <path d="M916,1090.3 L931,1090.3 M916,1110 L931,1110 M916,1090.3 A9.85,9.85 0 0 0 916,1110" stroke-width="0.9"/>
  <rect x="907.5" y="1089" width="21" height="22" stroke="#888" stroke-width="0.9"/>
 </g>
</g>
<!-- surface box -->
<rect x="891.6" y="1235.6" width="30.2" height="255" fill="#ff9a36" stroke="#000" stroke-width="2.7"/>
<g stroke="#999" stroke-width="1">
 <line x1="890.6" y1="1492" x2="890.6" y2="1531.5"/>
 <line x1="922.9" y1="1492" x2="922.9" y2="1531.5"/>
</g>
<g fill="#000">
 <rect x="890.6" y="1530.5" width="32.3" height="2"/>
 <path d="M890.6,1531.5 L875.7,1523.7 L875.7,1539.2 Z"/>
 <path d="M922.9,1531.5 L936.6,1523.7 L936.6,1539.2 Z"/>
</g>
</g>
<g id="texts" fill="#231f20">
<text x="983.7" y="90.1" font-size="25.4" stroke="#231f20" stroke-width="0.8">PL-0005-0-E-BT</text>
<text x="920.0" y="171" font-size="25.3" stroke="#231f20" stroke-width="0.8">EAN: 5430003616215</text>
<text transform="translate(733.9,246.4) rotate(-90)" font-size="22.2" fill="#808080">ral 9005 txt</text>
<text transform="translate(854.9,635.8) rotate(-90)" font-size="25" stroke="#231f20" stroke-width="0.5">335</text>
<text x="920.85" y="619.3" font-size="42.8" font-weight="bold">mm</text>
<text x="931.4" y="826.9" font-size="25.4" stroke="#231f20" stroke-width="0.7">143</text>
<text x="1055.2" y="826.9" font-size="25" stroke="#231f20" stroke-width="0.7">16</text>
<text x="965.3" y="914.5" font-size="25" font-weight="bold" fill="#000">350030</text>
<g font-size="23.3" fill="#1e1e1e">
<text x="961.5" y="1004.6">Inbouwdoos</text>
<text x="961.5" y="1032.7">À encastrer</text>
<text x="961.5" y="1060.9">Flush mounted</text>
<text x="961.5" y="1089.0">Unterputzmontage</text>
<text x="961.5" y="1117.2">Scatola da incasso</text>
</g>
<text x="942.6" y="1266.2" font-size="25" font-weight="bold" fill="#000">PL-0005-OPB-BT</text>
<g font-size="25.4" fill="#1e1e1e">
<text x="940.1" y="1302.9">Opbouwdoos</text>
<text x="940.1" y="1334.0">Boîte en apparent</text>
<text x="940.1" y="1365.8">Surface Mounting Box</text>
<text x="940.1" y="1396.3">Aufputzkasten</text>
<text x="940.1" y="1426.8">Scatola fuori muro</text>
</g>
<text x="937.7" y="1476.7" font-size="25" font-weight="bold" fill="#000">EAN 5430003616185</text>
<text x="881.75" y="1564.9" font-size="25" stroke="#231f20" stroke-width="0.8">+20</text>
<circle cx="679.2" cy="1673.2" r="5.9" fill="#ff6600"/>
<text x="710.5" y="1665.8" font-size="22" font-weight="bold">Stand.: Kleur • Couleur • Color • Farbe • Colore</text>
<rect x="710.3" y="1667.6" width="494.9" height="1.1" fill="#5a5a5a"/>
<text x="712.1" y="1692.9" font-size="20.85" font-weight="bold" xml:space="preserve">zwart  - noir - black - schwarz - nero = ral 9005 txt</text>
</g>

</svg>
<div style="position:absolute;left:344.20000000000005px;top:892.3000000000001px;width:65.8px;height:65.8px;border-radius:50%;background:conic-gradient(from 0deg,#262729 0deg,#303236 40deg,#4a4d55 80deg,#34363b 110deg,#202123 150deg,#1c1d1f 190deg,#2e3034 230deg,#44474f 265deg,#313338 300deg,#1f2022 335deg,#262729 360deg);"></div>
</body></html>
